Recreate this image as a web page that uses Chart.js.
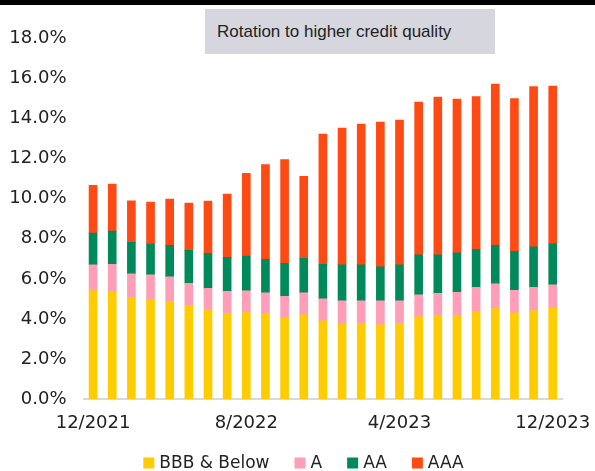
<!DOCTYPE html>
<html>
<head>
<meta charset="utf-8">
<script src="https://cdn.jsdelivr.net/npm/chart.js@4.4.0/dist/chart.umd.min.js"></script>
<style>
  body { margin: 0; background: #fff; }
  #wrap { position: relative; width: 595px; height: 471px; overflow: hidden; }
  #topbar { position: absolute; left: 0; top: 0; width: 595px; height: 5px; background: #000; }
  #note { position: absolute; left: 205px; top: 9px; width: 278px; height: 45px; padding-left: 12px;
          background: #d6d6df; color: #222; font: 17px "Liberation Sans", Arial, sans-serif; line-height: 45px; }
  canvas { position: absolute; left: 0; top: 0; }
</style>
</head>
<body>
<div id="wrap">
  <canvas id="chart" width="595" height="471"></canvas>
  <div id="topbar"></div>
  <div id="note">Rotation to higher credit quality</div>
</div>
<script>
// ---------------- Data ----------------
const months = ['12/2021','1/2022','2/2022','3/2022','4/2022','5/2022','6/2022','7/2022','8/2022',
  '9/2022','10/2022','11/2022','12/2022','1/2023','2/2023','3/2023','4/2023','5/2023','6/2023',
  '7/2023','8/2023','9/2023','10/2023','11/2023','12/2023'];
const seriesNames = ['BBB & Below', 'A', 'AA', 'AAA'];
const bbbBelow = [5.41,5.38,5.07,4.98,4.87,4.67,4.47,4.27,4.32,4.27,4.08,4.20,3.90,3.78,3.78,3.70,3.78,4.10,4.17,4.17,4.38,4.52,4.30,4.42,4.53];
const ratedA   = [1.29,1.35,1.18,1.22,1.23,1.11,1.06,1.10,1.08,1.03,1.05,1.10,1.10,1.12,1.12,1.20,1.12,1.10,1.10,1.16,1.20,1.23,1.13,1.15,1.17];
const ratedAA  = [1.58,1.65,1.57,1.53,1.57,1.64,1.74,1.70,1.73,1.68,1.65,1.72,1.72,1.80,1.80,1.70,1.80,2.00,1.93,1.97,1.89,1.92,1.94,2.03,2.05];
const ratedAAA = [2.39,2.35,2.08,2.10,2.31,2.36,2.61,3.16,4.14,4.72,5.17,4.10,6.51,6.83,7.03,7.23,7.23,7.63,7.87,7.68,7.63,8.06,7.63,8.00,7.88];
const colors = ['#ffcc00', '#ff9eb6', '#008a5c', '#ff4a14'];

const tickFont = { family: '"DejaVu Sans", sans-serif', size: 18 };
const textColor = '#222';

// legend drawn by hand so the spacing can match
const legendPlugin = {
  id: 'bottomLegend',
  afterDraw(chart){
    const ctx = chart.ctx;
    const box = 11, gap = 5, spacing = 25, cy = 463, centerX = 303.5;
    ctx.save();
    ctx.font = '17px "DejaVu Sans", sans-serif';
    ctx.textBaseline = 'middle';
    const widths = chart.data.datasets.map(d => box + gap + ctx.measureText(d.label).width);
    let x = centerX - (widths.reduce((a,w)=>a+w,0) + spacing*(widths.length-1))/2;
    chart.data.datasets.forEach((d,i)=>{
      ctx.fillStyle = d.backgroundColor;
      ctx.fillRect(x, cy - box/2, box, box);
      ctx.fillStyle = textColor;
      ctx.fillText(d.label, x + box + gap, cy + 1);
      x += widths[i] + spacing;
    });
    ctx.restore();
  }
};

new Chart(document.getElementById('chart'), {
  type: 'bar',
  data: {
    labels: months,
    datasets: [bbbBelow, ratedA, ratedAA, ratedAAA].map((data,i)=>({
      label: seriesNames[i], data, backgroundColor: colors[i], barThickness: 8
    }))
  },
  options: {
    responsive: false,
    animation: false,
    layout: { padding: { top: 38.5, right: 32.7, left: 0, bottom: 17 } },
    plugins: { legend: { display: false }, tooltip: { enabled: false } },
    scales: {
      x: {
        stacked: true,
        grid: { display: false, drawTicks: false },
        border: { display: true, color: '#d9d9d9', width: 2 },
        ticks: {
          autoSkip: false, maxRotation: 0, padding: 14, color: textColor, font: tickFont,
          callback: (v,i)=> i % 8 === 0 ? months[i] : ''
        },
        afterFit: s => { s.height = 55; s.paddingLeft = 0; s.paddingRight = 0; }
      },
      y: {
        stacked: true, min: 0, max: 18,
        grid: { display: false, drawTicks: false },
        border: { display: false },
        ticks: { stepSize: 2, padding: 17, color: textColor, font: tickFont,
          callback: v => v.toFixed(1) + '%' },
        afterFit: s => { s.width = 83.5; }
      }
    }
  },
  plugins: [legendPlugin]
});
</script>
</body>
</html>
